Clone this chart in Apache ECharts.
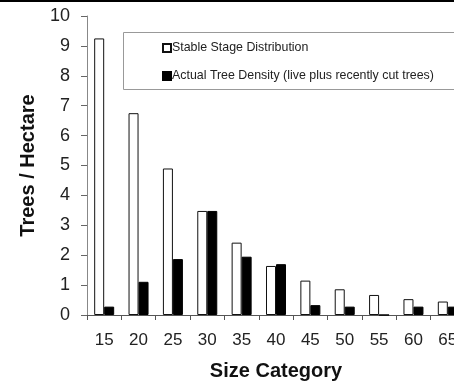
<!DOCTYPE html>
<html>
<head>
<meta charset="utf-8">
<script src="https://cdn.jsdelivr.net/npm/echarts@6/dist/echarts.min.js"></script>
<style>
  html, body { margin: 0; padding: 0; background: #fff; }
  #chart { width: 454px; height: 382px; }
</style>
</head>
<body>
<div id="chart"></div>
<script>
const sizeCategories = ['15', '20', '25', '30', '35', '40', '45', '50', '55', '60', '65'];
const stableStage = [9.25, 6.75, 4.9, 3.48, 2.42, 1.64, 1.15, 0.86, 0.67, 0.53, 0.45];
const actualDensity = [0.28, 1.11, 1.87, 3.48, 1.95, 1.7, 0.33, 0.28, 0, 0.28, 0.28];
const yTicks = [0, 10, 1];

const chart = echarts.init(document.getElementById('chart'));
const axisFont = 'Liberation Sans, Arial, sans-serif';

chart.setOption({
    animation: false,
    graphic: [
        // black rule along the top edge and the legend frame, which runs off the right side
        {type: 'rect', shape: {x: 0, y: 0, width: 454, height: 2}, style: {fill: '#000'}},
        {type: 'rect', shape: {x: 123.5, y: 32.5, width: 360, height: 57}, style: {fill: null, stroke: '#999', lineWidth: 1}}
    ],
    legend: {
        orient: 'vertical',
        left: 123,
        top: 32,
        padding: [10, 20, 10, 39],
        itemGap: 16,
        itemWidth: 8,
        itemHeight: 8,
        icon: 'rect',
        borderWidth: 0,
        textStyle: {fontFamily: axisFont, fontSize: 12.4, color: '#222', padding: [0, 0, 0, -4]},
        data: ['Stable Stage Distribution', 'Actual Tree Density (live plus recently cut trees)']
    },
    grid: {left: 87, top: 16, height: 299, width: 378, outerBoundsMode: 'none', containLabel: false},
    xAxis: {
        type: 'category',
        data: sizeCategories,
        name: 'Size Category',
        nameLocation: 'middle',
        nameGap: 46,
        nameTextStyle: {fontFamily: axisFont, fontSize: 20, fontWeight: 'bold', color: '#111'},
        axisLine: {lineStyle: {color: '#555', width: 1}},
        axisTick: {show: true, length: 5, lineStyle: {color: '#555'}},
        axisLabel: {fontFamily: axisFont, fontSize: 17, color: '#222', margin: 17}
    },
    yAxis: {
        type: 'value',
        min: yTicks[0],
        max: yTicks[1],
        interval: yTicks[2],
        name: 'Trees / Hectare',
        nameLocation: 'middle',
        nameGap: 49,
        nameTextStyle: {fontFamily: axisFont, fontSize: 20, fontWeight: 'bold', color: '#111'},
        splitLine: {show: false},
        axisLine: {show: true, lineStyle: {color: '#888', width: 1}},
        axisTick: {show: true, length: 6, lineStyle: {color: '#666'}},
        axisLabel: {fontFamily: axisFont, fontSize: 18, color: '#222', margin: 17}
    },
    series: [
        {
            name: 'Stable Stage Distribution',
            type: 'bar',
            data: stableStage,
            barWidth: 10,
            barGap: '0%',
            itemStyle: {color: '#fff', borderColor: '#111', borderWidth: 1}
        },
        {
            name: 'Actual Tree Density (live plus recently cut trees)',
            type: 'bar',
            data: actualDensity,
            barWidth: 10,
            itemStyle: {color: '#000', borderColor: '#000', borderWidth: 1}
        }
    ]
});
</script>
</body>
</html>
